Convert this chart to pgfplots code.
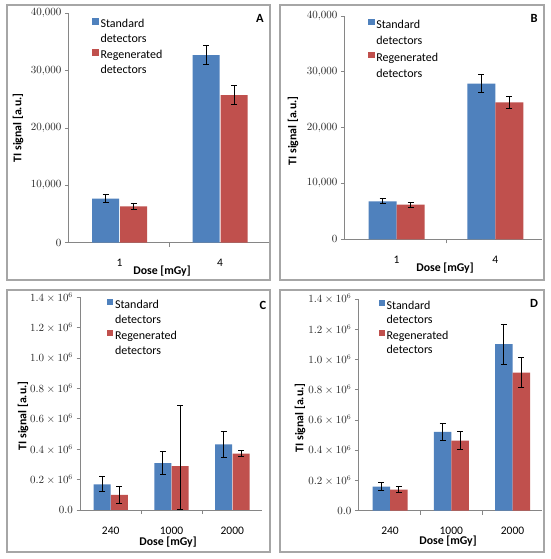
\documentclass[border=0pt]{standalone}
\usepackage{fontspec}
\setmainfont{Carlito}
\usepackage{pgfplots}
\pgfplotsset{compat=1.18}
\definecolor{barblue}{HTML}{4F81BD}
\definecolor{barred}{HTML}{C0504D}
\definecolor{axgray}{HTML}{868686}
\definecolor{boxgray}{HTML}{A6A6A6}

\pgfplotsset{
  panel/.style={
    scale only axis, ybar, ymin=0, enlargelimits=false, scaled y ticks=false,
    axis lines=left, axis line style={-, draw=axgray, line width=0.8pt},
    tick align=outside, major tick length=3.5pt, minor tick length=4pt,
    ytick style={draw=axgray, line width=0.8pt},
    major x tick style={draw=none},
    minor x tick style={draw=axgray, line width=0.8pt},
    yticklabel style={font=\fontsize{10.5}{12}\selectfont, text=black!85},
    xticklabel style={font=\fontsize{11.5}{13}\selectfont, anchor=center, inner sep=0pt},
    legend cell align=left,
    legend style={draw=none, fill=none, anchor=north west, inner sep=0pt, outer sep=0pt,
      font=\fontsize{12}{14}\selectfont, /tikz/column sep=1pt,
      nodes={inner sep=0.6pt, text height=8.5pt, text depth=2.6pt}},
  },
  eb/.style={error bars/.cd, y dir=both, y explicit,
    error bar style={draw=black, line width=1pt},
    error mark options={draw=black, line width=1pt, mark size=3pt, rotate=90}},
  blueleg/.style={legend image code/.code={\fill[barblue] (0pt,0pt) rectangle (6.5pt,6.5pt);}},
  redleg/.style={legend image code/.code={\fill[barred] (0pt,0pt) rectangle (6.5pt,6.5pt);}},
}
\tikzset{axlab/.style={font=\bfseries\fontsize{11.8}{14}\selectfont, anchor=center, inner sep=0pt}}

\begin{document}
\begin{tikzpicture}
\useasboundingbox (0,0) rectangle (550pt,559pt);
\fill[white] (0,0) rectangle (550pt,559pt);
% panel boxes
\draw[boxgray, line width=1.2pt] (7pt,554pt) rectangle (270pt,279pt);
\draw[boxgray, line width=1.2pt] (280pt,554pt) rectangle (544pt,279pt);
\draw[boxgray, line width=1.2pt] (7pt,269pt) rectangle (270pt,7pt);
\draw[boxgray, line width=1.2pt] (280pt,269pt) rectangle (544pt,7pt);

% ---------------- A ----------------
\begin{axis}[panel, at={(68.3pt,316.3pt)}, anchor=south west, width=201pt, height=229.4pt,
  xmin=-0.51, xmax=1.49, xtick={0,1}, xticklabels={1,4}, minor xtick={0.5},
  ymax=40000, ytick={0,10000,20000,30000,40000},
  yticklabels={$0$,$10{,}000$,$20{,}000$,$30{,}000$,$40{,}000$},
  xticklabel style={yshift=-16.5pt},
  legend style={at={(axis description cs:0.12,0.979)}, row sep=3pt},
  bar width=27pt]
\addplot[fill=barblue, draw=none, bar shift=-14pt, blueleg, eb] coordinates {
  (0,7700) +- (0,700)
  (1,32700) +- (0,1650)
};
\addlegendentry{Standard}
\addlegendimage{empty legend}
\addlegendentry{detectors}
\addplot[fill=barred, draw=none, bar shift=14pt, redleg, eb] coordinates {
  (0,6350) +- (0,520)
  (1,25750) +- (0,1650)
};
\addlegendentry{Regenerated}
\addlegendimage{empty legend}
\addlegendentry{detectors}
\end{axis}

% ---------------- B ----------------
\begin{axis}[panel, at={(344.3pt,319.7pt)}, anchor=south west, width=197.4pt, height=223.3pt,
  xmin=-0.53, xmax=1.47, xtick={0,1}, xticklabels={1,4}, minor xtick={0.5},
  ymax=40000, ytick={0,10000,20000,30000,40000},
  yticklabels={$0$,$10{,}000$,$20{,}000$,$30{,}000$,$40{,}000$},
  xticklabel style={yshift=-17.4pt},
  legend style={at={(axis description cs:0.121,0.987)}, row sep=4pt},
  bar width=28pt]
\addplot[fill=barblue, draw=none, bar shift=-14pt, blueleg, eb] coordinates {
  (0,6800) +- (0,420)
  (1,27870) +- (0,1650)
};
\addlegendentry{Standard}
\addlegendimage{empty legend}
\addlegendentry{detectors}
\addplot[fill=barred, draw=none, bar shift=14pt, redleg, eb] coordinates {
  (0,6200) +- (0,450)
  (1,24530) +- (0,1070)
};
\addlegendentry{Regenerated}
\addlegendimage{empty legend}
\addlegendentry{detectors}
\end{axis}

% ---------------- C ----------------
\begin{axis}[panel, at={(80pt,49pt)}, anchor=south west, width=182.4pt, height=212.7pt,
  xmin=-0.505, xmax=2.495, xtick={0,1,2}, xticklabels={240,1000,2000}, minor xtick={0.5,1.5},
  ymax=1.4, ytick={0,0.2,0.4,0.6,0.8,1.0,1.2,1.4},
  yticklabels={$0.0$,$0.2\times10^{6}$,$0.4\times10^{6}$,$0.6\times10^{6}$,$0.8\times10^{6}$,$1.0\times10^{6}$,$1.2\times10^{6}$,$1.4\times10^{6}$},
  xticklabel style={yshift=-17.2pt},
  legend style={at={(axis description cs:0.148,0.992)}, row sep=3pt},
  bar width=17pt]
\addplot[fill=barblue, draw=none, bar shift=-8.7pt, blueleg, eb] coordinates {
  (0,0.169) +- (0,0.050)
  (1,0.309) +- (0,0.075)
  (2,0.432) +- (0,0.085)
};
\addlegendentry{Standard}
\addlegendimage{empty legend}
\addlegendentry{detectors}
\addplot[fill=barred, draw=none, bar shift=8.7pt, redleg, eb] coordinates {
  (0,0.099) +- (0,0.053)
  (1,0.288) += (0,0.397) -= (0,0.288)
  (2,0.371) +- (0,0.019)
};
\addlegendentry{Regenerated}
\addlegendimage{empty legend}
\addlegendentry{detectors}
\end{axis}

% ---------------- D ----------------
\begin{axis}[panel, at={(358.3pt,48.3pt)}, anchor=south west, width=183.75pt, height=211.7pt,
  xmin=-0.518, xmax=2.482, xtick={0,1,2}, xticklabels={240,1000,2000}, minor xtick={0.5,1.5},
  ymax=1.4, ytick={0,0.2,0.4,0.6,0.8,1.0,1.2,1.4},
  yticklabels={$0.0$,$0.2\times10^{6}$,$0.4\times10^{6}$,$0.6\times10^{6}$,$0.8\times10^{6}$,$1.0\times10^{6}$,$1.2\times10^{6}$,$1.4\times10^{6}$},
  xticklabel style={yshift=-16.5pt},
  legend style={at={(axis description cs:0.11,0.996)}, row sep=2.4pt},
  bar width=17.5pt]
\addplot[fill=barblue, draw=none, bar shift=-8.75pt, blueleg, eb] coordinates {
  (0,0.159) +- (0,0.027)
  (1,0.522) +- (0,0.057)
  (2,1.102) +- (0,0.132)
};
\addlegendentry{Standard}
\addlegendimage{empty legend}
\addlegendentry{detectors}
\addplot[fill=barred, draw=none, bar shift=8.75pt, redleg, eb] coordinates {
  (0,0.139) +- (0,0.020)
  (1,0.463) +- (0,0.058)
  (2,0.913) +- (0,0.099)
};
\addlegendentry{Regenerated}
\addlegendimage{empty legend}
\addlegendentry{detectors}
\end{axis}

% axis titles
\node[axlab] at (162pt,288pt) {Dose [mGy]};
\node[axlab] at (445pt,291pt) {Dose [mGy]};
\node[axlab] at (168pt,17pt) {Dose [mGy]};
\node[axlab] at (448pt,17.5pt) {Dose [mGy]};
\node[axlab, rotate=90] at (18pt,431pt) {TI signal [a.u.]};
\node[axlab, rotate=90] at (293pt,428pt) {TI signal [a.u.]};
\node[axlab, rotate=90] at (23pt,143pt) {TI signal [a.u.]};
\node[axlab, rotate=90] at (300pt,141pt) {TI signal [a.u.]};

% panel letters
\node[font=\bfseries\fontsize{12.5}{14}\selectfont] at (260pt,541pt) {A};
\node[font=\bfseries\fontsize{12.5}{14}\selectfont] at (534pt,541pt) {B};
\node[font=\bfseries\fontsize{12.5}{14}\selectfont] at (263pt,254pt) {C};
\node[font=\bfseries\fontsize{12.5}{14}\selectfont] at (534pt,256pt) {D};
\end{tikzpicture}
\end{document}
